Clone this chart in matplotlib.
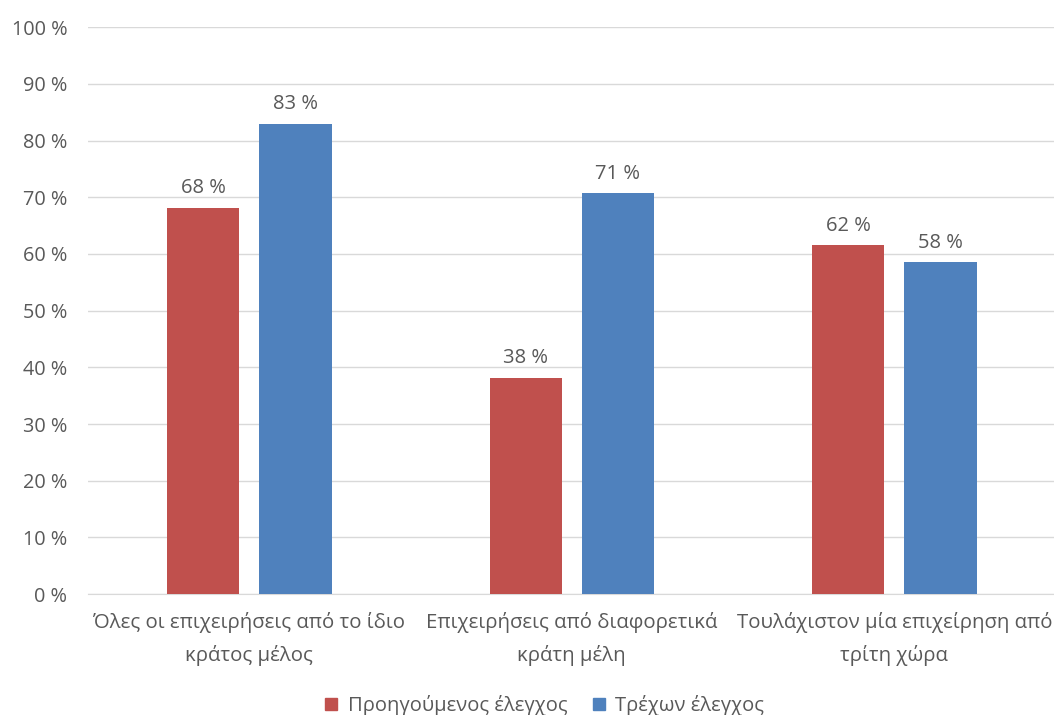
import numpy as np
import matplotlib.pyplot as plt
from matplotlib.patches import Patch

plt.rcParams['font.family'] = ['Open Sans', 'DejaVu Sans']

categories = [
    'Όλες οι επιχειρήσεις από το ίδιο\nκράτος μέλος',
    'Επιχειρήσεις από διαφορετικά\nκράτη μέλη',
    'Τουλάχιστον μία επιχείρηση από\nτρίτη χώρα',
]
series_names = ['Προηγούμενος έλεγχος', 'Τρέχων έλεγχος']
previous = [68.1, 38.1, 61.5]
current = [83.0, 70.7, 58.5]
yticks = list(range(0, 101, 10))

RED = '#C0504D'
BLUE = '#4F81BD'
TEXT = '#595959'

fig = plt.figure(figsize=(10.54, 7.15), dpi=100)
ax = fig.add_axes([0.0835, 0.169, 0.918, 0.793])

x = np.arange(len(categories))
width = 0.224
offset = 0.143

bars_prev = ax.bar(x - offset, previous, width, color=RED, zorder=3)
bars_cur = ax.bar(x + offset, current, width, color=BLUE, zorder=3)

for bars in (bars_prev, bars_cur):
    for b in bars:
        h = b.get_height()
        ax.annotate(f'{h:.0f} %', (b.get_x() + b.get_width() / 2, h),
                    xytext=(0, 7), textcoords='offset points',
                    ha='center', va='bottom', fontsize=14.5, color=TEXT)

ax.set_xlim(-0.5, 2.5)
ax.set_ylim(0, 100)
ax.set_yticks(yticks)
ax.set_yticklabels([f'{t} %' for t in yticks])
ax.set_xticks(x)
ax.set_xticklabels(categories, fontsize=14.7, color=TEXT, linespacing=1.72)

ax.yaxis.grid(True, color='#D9D9D9', linewidth=1, zorder=0)
ax.tick_params(axis='y', length=0, labelsize=14.3, labelcolor=TEXT, pad=15)
ax.tick_params(axis='x', length=0, pad=13)
for side in ('top', 'right', 'left'):
    ax.spines[side].set_visible(False)
ax.spines['bottom'].set_color('#D9D9D9')

handles = [Patch(color=RED), Patch(color=BLUE)]
fig.legend(handles, series_names, loc='lower center', ncol=2,
           bbox_to_anchor=(0.517, -0.027), frameon=False, fontsize=14.5,
           labelcolor=TEXT, handlelength=0.6, handleheight=0.6,
           handletextpad=0.5, columnspacing=1.3)

fig.savefig('out.png', dpi=100)
